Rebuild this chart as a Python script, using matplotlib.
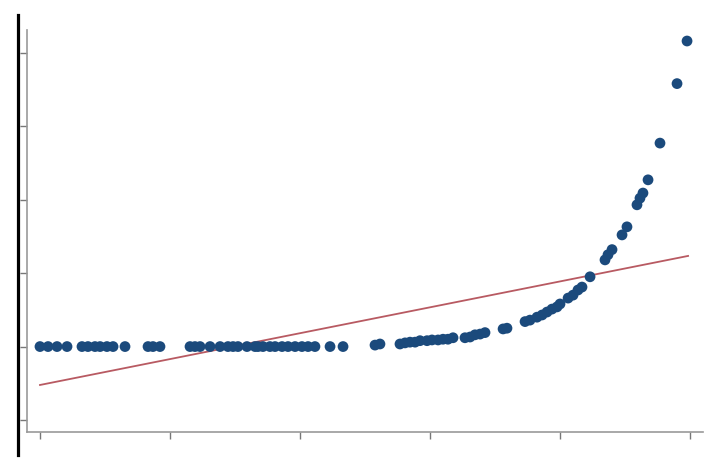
import numpy as np
import matplotlib
matplotlib.use('Agg')
import matplotlib.pyplot as plt
from matplotlib.lines import Line2D

# flat part of the sample (all at the same value)
x_flat = [0.000, 0.062, 0.131, 0.208, 0.323, 0.369, 0.423, 0.462, 0.515, 0.562,
          0.654, 0.831, 0.869, 0.923, 1.154, 1.192, 1.231, 1.308, 1.385, 1.446,
          1.485, 1.523, 1.592, 1.654, 1.677, 1.715, 1.769, 1.808, 1.862, 1.908,
          1.962, 2.015, 2.062, 2.115, 2.231, 2.331]
y_flat = [1.0] * len(x_flat)

# rising tail
x_tail = [2.577, 2.615, 2.769, 2.808, 2.846, 2.885, 2.923, 2.977, 3.015, 3.062,
          3.100, 3.138, 3.177, 3.269, 3.308, 3.346, 3.385, 3.423, 3.562, 3.592,
          3.731, 3.769, 3.823, 3.862, 3.900, 3.938, 3.977, 4.000, 4.062, 4.100,
          4.138, 4.169, 4.231, 4.346, 4.369, 4.400, 4.477, 4.515, 4.592, 4.615,
          4.638, 4.677, 4.769, 4.900, 4.977]
y_tail = [1.02, 1.035, 1.035, 1.05, 1.06, 1.06, 1.08, 1.08, 1.09, 1.09,
          1.10, 1.10, 1.12, 1.12, 1.13, 1.16, 1.17, 1.19, 1.24, 1.25,
          1.34, 1.36, 1.40, 1.43, 1.47, 1.51, 1.54, 1.58, 1.66, 1.70,
          1.77, 1.81, 1.95, 2.18, 2.25, 2.32, 2.52, 2.63, 2.93, 3.02,
          3.09, 3.27, 3.77, 4.58, 5.16]

# reference line
line_x = [0.0, 4.985]
line_y = [0.477, 2.234]

x_ticks = [0, 1, 2, 3, 4, 5]
y_ticks = [0, 1, 2, 3, 4, 5]

fig = plt.figure(figsize=(7.12, 4.65), dpi=100)
ax = fig.add_axes([0.0379, 0.071, 0.9495, 0.8645])

ax.plot(line_x, line_y, color='#b85a62', lw=1.3, zorder=2)
ax.scatter(x_flat + x_tail, y_flat + y_tail, s=60, color='#1b4a7c',
           edgecolors='none', zorder=3)

ax.set_xlim(-0.1, 5.1)
ax.set_ylim(-0.163, 5.31)
ax.set_xticks(x_ticks)
ax.set_yticks(y_ticks)
ax.set_xticklabels([])
ax.set_yticklabels([])
ax.tick_params(colors='#777777', length=5, width=1)

for s in ['top', 'right']:
    ax.spines[s].set_visible(False)
for s in ['left', 'bottom']:
    ax.spines[s].set_color('#999999')
    ax.spines[s].set_linewidth(1.2)

# thick black bar at the far left
fig.add_artist(Line2D([0.0253, 0.0253], [0.0215, 0.9677], color='black',
                      lw=2.3, transform=fig.transFigure))

plt.savefig('out.png', dpi=100)
